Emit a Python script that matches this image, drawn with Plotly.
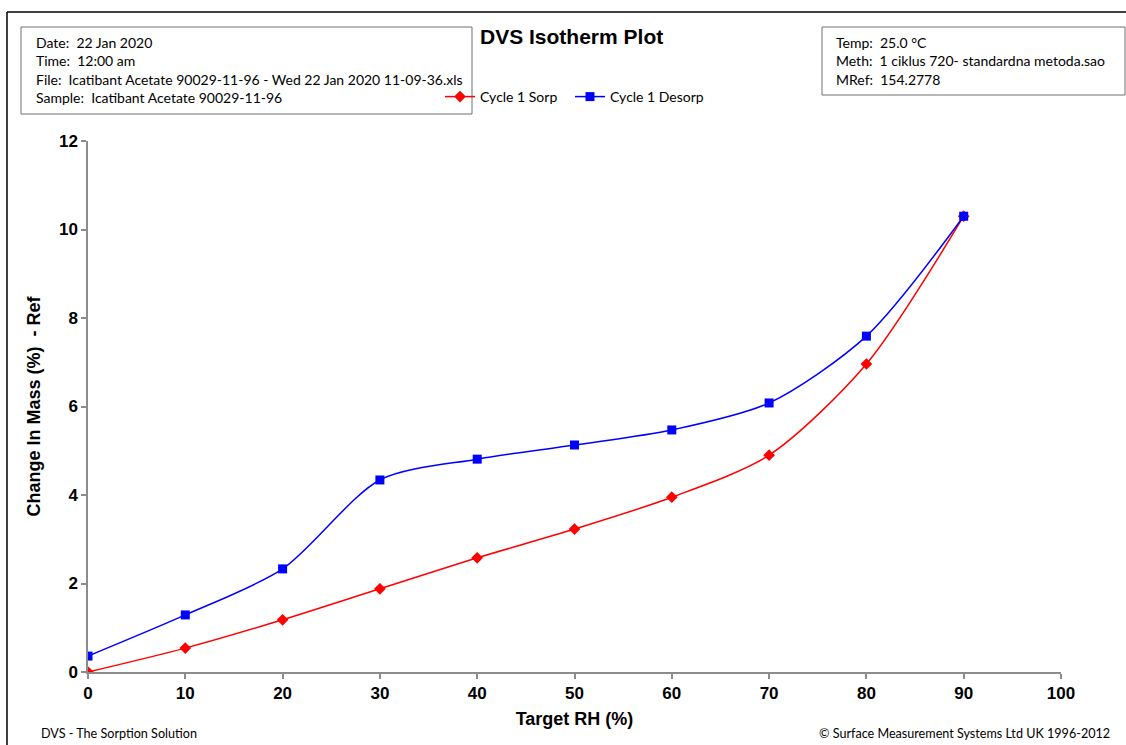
import plotly.graph_objects as go

# ---- data ----
rh = [0, 10, 20, 30, 40, 50, 60, 70, 80, 90]
sorp = [0.00, 0.54, 1.18, 1.88, 2.58, 3.23, 3.95, 4.90, 6.96, 10.30]
desorp = [0.36, 1.29, 2.33, 4.34, 4.81, 5.13, 5.47, 6.08, 7.59, 10.30]
x_ticks = [0, 10, 20, 30, 40, 50, 60, 70, 80, 90, 100]
y_ticks = [0, 2, 4, 6, 8, 10, 12]

left_info = [
    "Date:  22 Jan 2020",
    "Time:  12:00 am",
    "File:  Icatibant Acetate 90029-11-96 - Wed 22 Jan 2020 11-09-36.xls",
    "Sample:  Icatibant Acetate 90029-11-96",
]
right_info = [
    "Temp:  25.0 °C",
    "Meth:  1 ciklus 720- standardna metoda.sao",
    "MRef:  154.2778",
]

W, H = 1126, 745
L, R, T, B = 88, 1061, 141, 672


def px(xp):
    return (xp - L) / (R - L)


def py(yp):
    return (B - yp) / (B - T)


fig = go.Figure()
fig.add_trace(go.Scatter(
    x=rh, y=sorp, name="Cycle 1 Sorp", mode="lines+markers", legend="legend",
    line=dict(color="#ff0000", width=1.5, shape="spline", smoothing=0.8),
    marker=dict(symbol="diamond", size=9, color="#ff0000"),
))
fig.add_trace(go.Scatter(
    x=rh, y=desorp, name="Cycle 1 Desorp", mode="lines+markers", legend="legend2",
    line=dict(color="#0000ff", width=1.5, shape="spline", smoothing=0.8),
    marker=dict(symbol="square", size=9, color="#0000ff"),
))

tick_font = dict(family="Liberation Sans, Arial", size=17, color="black")
title_font = dict(family="Liberation Sans, Arial", size=18, color="black")
legend_font = dict(family="Lato", size=14, color="black")

fig.update_layout(
    width=W, height=H,
    margin=dict(l=L, r=W - R, t=T, b=H - B),
    paper_bgcolor="white", plot_bgcolor="white",
    showlegend=True,
    legend=dict(orientation="h", x=px(440), y=py(97), xanchor="left", yanchor="middle",
                font=legend_font, bgcolor="rgba(0,0,0,0)", itemwidth=30),
    legend2=dict(orientation="h", x=px(570), y=py(97), xanchor="left", yanchor="middle",
                 font=legend_font, bgcolor="rgba(0,0,0,0)", itemwidth=30),
    xaxis=dict(range=[0, 100], tickvals=x_ticks, ticktext=[f"<b>{v}</b>" for v in x_ticks],
               showgrid=False, zeroline=False,
               showline=True, linecolor="#8c8c8c", linewidth=1.5,
               ticks="outside", ticklen=5, tickcolor="#8c8c8c", tickwidth=1.5,
               tickfont=tick_font,
               title=dict(text="<b>Target RH (%)</b>", font=title_font, standoff=10)),
    yaxis=dict(range=[0, 12], tickvals=y_ticks, ticktext=[f"<b>{v}</b>" for v in y_ticks],
               showgrid=False, zeroline=False,
               showline=True, linecolor="#8c8c8c", linewidth=1.5,
               ticks="outside", ticklen=5, tickcolor="#8c8c8c", tickwidth=1.5,
               tickfont=tick_font,
               title=dict(text="<b>Change In Mass (%)  - Ref</b>", font=title_font, standoff=14)),
)

shapes = [
    # outer frame (left & top)
    dict(type="line", xref="paper", yref="paper", x0=px(7), x1=px(7), y0=py(12), y1=py(760),
         line=dict(color="black", width=1.5)),
    dict(type="line", xref="paper", yref="paper", x0=px(7), x1=px(1140), y0=py(12), y1=py(12),
         line=dict(color="black", width=1.5)),
    # info boxes
    dict(type="rect", xref="paper", yref="paper", x0=px(21), x1=px(472), y0=py(114), y1=py(27),
         line=dict(color="#707070", width=1)),
    dict(type="rect", xref="paper", yref="paper", x0=px(822), x1=px(1125), y0=py(95), y1=py(27),
         line=dict(color="#707070", width=1)),
]
fig.update_layout(shapes=shapes)

info_font = dict(family="Lato", size=14, color="black")
ann = []
for i, t in enumerate(left_info):
    ann.append(dict(text=t, x=px(34), y=py(42 + i * 18.6), xref="paper", yref="paper",
                    xanchor="left", yanchor="middle", showarrow=False, font=info_font))
for i, t in enumerate(right_info):
    ann.append(dict(text=t, x=px(834), y=py(42 + i * 18.6), xref="paper", yref="paper",
                    xanchor="left", yanchor="middle", showarrow=False, font=info_font))
ann.append(dict(text="<b>DVS Isotherm Plot</b>", x=px(571), y=py(37), xref="paper", yref="paper",
                xanchor="center", yanchor="middle", showarrow=False,
                font=dict(family="Liberation Sans, Arial", size=21, color="black")))
foot_font = dict(family="Lato", size=12.6, color="black")
ann.append(dict(text="DVS - The Sorption Solution", x=px(39), y=py(734), xref="paper", yref="paper",
                xanchor="left", yanchor="middle", showarrow=False, font=foot_font))
ann.append(dict(text="© Surface Measurement Systems Ltd UK 1996-2012", x=px(1112), y=py(734),
                xref="paper", yref="paper", xanchor="right", yanchor="middle", showarrow=False,
                font=foot_font))
fig.update_layout(annotations=ann)

fig.write_html("out.html", config={"displayModeBar": False},
               post_script="document.body.style.margin='0';document.body.style.overflow='hidden';")
